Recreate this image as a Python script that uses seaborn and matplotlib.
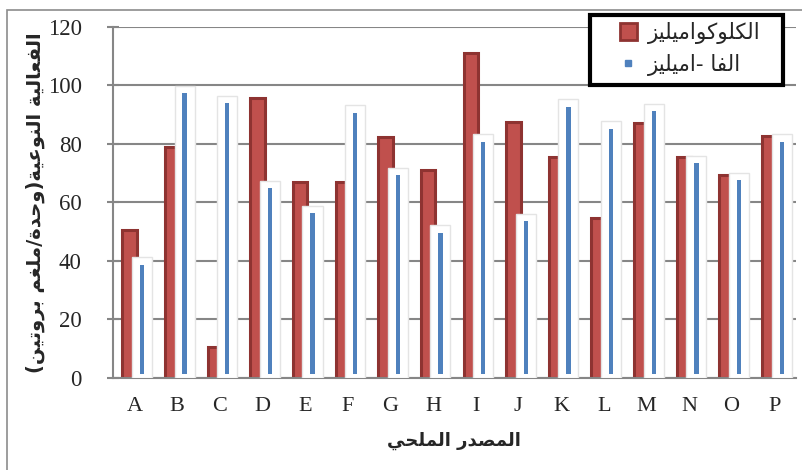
import pandas as pd
import matplotlib
matplotlib.use('Agg')
import matplotlib.pyplot as plt
import seaborn as sns
from matplotlib.patches import Rectangle, Patch
from matplotlib.lines import Line2D

# Data
sources = list('ABCDEFGHIJKLMNOP')
glucoamylase = [50.5, 79, 10.5, 95.7, 66.8, 66.8, 82.3, 71.2, 111.2, 87.5, 75.4, 54.5, 87.2, 75.4, 69.4, 82.6]
alpha_amylase = [38.6, 97.2, 93.8, 64.8, 56.3, 90.6, 69.2, 49.5, 80.6, 53.5, 92.6, 85.1, 91.1, 73.3, 67.5, 80.6]

# Arabic presentation forms: (isolated, final, initial, medial)
FORMS = {
    'ا': ('\uFE8D', '\uFE8E', None, None),
    'ب': ('\uFE8F', '\uFE90', '\uFE91', '\uFE92'),
    'ة': ('\uFE93', '\uFE94', None, None),
    'ت': ('\uFE95', '\uFE96', '\uFE97', '\uFE98'),
    'ح': ('\uFEA1', '\uFEA2', '\uFEA3', '\uFEA4'),
    'د': ('\uFEA9', '\uFEAA', None, None),
    'ر': ('\uFEAD', '\uFEAE', None, None),
    'ز': ('\uFEAF', '\uFEB0', None, None),
    'ص': ('\uFEB9', '\uFEBA', '\uFEBB', '\uFEBC'),
    'ع': ('\uFEC9', '\uFECA', '\uFECB', '\uFECC'),
    'غ': ('\uFECD', '\uFECE', '\uFECF', '\uFED0'),
    'ف': ('\uFED1', '\uFED2', '\uFED3', '\uFED4'),
    'ك': ('\uFED9', '\uFEDA', '\uFEDB', '\uFEDC'),
    'ل': ('\uFEDD', '\uFEDE', '\uFEDF', '\uFEE0'),
    'م': ('\uFEE1', '\uFEE2', '\uFEE3', '\uFEE4'),
    'ن': ('\uFEE5', '\uFEE6', '\uFEE7', '\uFEE8'),
    'و': ('\uFEED', '\uFEEE', None, None),
    'ي': ('\uFEF1', '\uFEF2', '\uFEF3', '\uFEF4'),
}


def ar(text):
    # minimal shaping + right-to-left ordering for matplotlib
    out = []
    for i, ch in enumerate(text):
        if ch not in FORMS:
            out.append(ch)
            continue
        f = FORMS[ch]
        prev = text[i - 1] if i > 0 else ''
        nxt = text[i + 1] if i + 1 < len(text) else ''
        jp = prev in FORMS and FORMS[prev][2] is not None
        jn = f[2] is not None and nxt in FORMS
        if jp and jn:
            out.append(f[3])
        elif jp:
            out.append(f[1])
        elif jn:
            out.append(f[2])
        else:
            out.append(f[0])
    vis = ''.join(reversed(out))
    return vis.translate(str.maketrans('()', ')('))


lab_gluco = ar('الكلوكواميليز')
lab_alpha = ar('الفا -اميليز')

df = pd.DataFrame({
    'source': sources * 2,
    'activity': glucoamylase + alpha_amylase,
    'enzyme': [lab_gluco] * len(sources) + [lab_alpha] * len(sources),
})

sns.set_style('white')
plt.rcParams['font.family'] = ['Liberation Serif', 'DejaVu Sans']

fig = plt.figure(figsize=(8.02, 4.70), dpi=100)
ax = fig.add_axes([0.141, 0.196, 0.851, 0.747])

red, blue = '#C0504D', '#4F81BD'
sns.barplot(data=df, x='source', y='activity', hue='enzyme',
            palette=[red, blue], width=0.58, ax=ax, legend=False,
            saturation=1, errorbar=None)

n = len(sources)
patches = [p for p in ax.patches if p.get_width() > 0][:2 * n]
for p in patches[:n]:
    cx = p.get_x() + p.get_width() / 2 + 0.03
    p.set_x(cx - 0.17)
    p.set_width(0.34)
    p.set_edgecolor('#8E3331')
    p.set_linewidth(2.2)
    p.set_zorder(2)
for p in patches[n:]:
    cx = p.get_x() + p.get_width() / 2 + 0.03
    h = p.get_height()
    glow = Rectangle((cx - 0.235, 0), 0.47, h + 2.6, facecolor='white',
                     edgecolor='#e4e4e4', linewidth=1, zorder=3)
    ax.add_patch(glow)
    p.set_x(cx - 0.05)
    p.set_width(0.1)
    p.set_y(1.3)
    p.set_height(h - 1.3)
    p.set_linewidth(0)
    p.set_zorder(4)

ax.set_xlim(-0.5, n - 0.5)
ax.set_ylim(0, 120)
ax.set_yticks(range(0, 121, 20))
ax.yaxis.grid(True, color='#868686', linewidth=1.5, zorder=0)
ax.set_axisbelow(True)
for s in ['top', 'right']:
    ax.spines[s].set_visible(False)
for s in ['left', 'bottom']:
    ax.spines[s].set_color('#868686')
    ax.spines[s].set_linewidth(1.5)

ax.set_xticks(range(n))
ax.set_xticks([i - 0.5 for i in range(n + 1)], minor=True)
ax.tick_params(axis='x', which='major', length=0, pad=14, labelsize=16)
ax.tick_params(axis='x', which='minor', length=6, width=1.5, color='#868686', direction='out')
ax.tick_params(axis='y', length=9, width=1.5, color='#868686', direction='inout',
               pad=18, labelsize=16.5, left=True)

ax.set_xlabel(ar('المصدر الملحي'), fontsize=13, fontweight='bold',
              family='DejaVu Sans', labelpad=11)
ax.set_ylabel(ar('الفعالية النوعية(وحدة/ملغم بروتين)'), fontsize=14,
              fontweight='bold', family='DejaVu Sans', labelpad=2)

# legend box frame
fig.add_artist(Rectangle((590 / 802, 1 - 85 / 470), 193 / 802, 70 / 470,
                         transform=fig.transFigure, facecolor='white',
                         edgecolor='black', linewidth=3, zorder=9))

handles = [
    Patch(facecolor=red, edgecolor='#8E3331', linewidth=2),
    Line2D([], [], marker='s', linestyle='none', markersize=4,
           markerfacecolor=blue, markeredgecolor=blue),
]
leg = fig.legend(handles, [lab_gluco, lab_alpha], loc='center',
                 bbox_to_anchor=(690 / 802, 1 - 49 / 470),
                 prop={'family': 'DejaVu Sans', 'size': 15.5},
                 frameon=False, handlelength=0.8, handleheight=0.8,
                 handletextpad=0.5, labelspacing=0.45, borderpad=0)
leg.set_zorder(10)

# outer chart frame (only top and left edges visible in the crop)
fig.add_artist(Rectangle((7 / 802, -0.1), 1.2, 1.1 - 10 / 470,
                         transform=fig.transFigure, fill=False,
                         edgecolor='#8c8c8c', linewidth=1.2))

fig.savefig('out.png', dpi=100)
